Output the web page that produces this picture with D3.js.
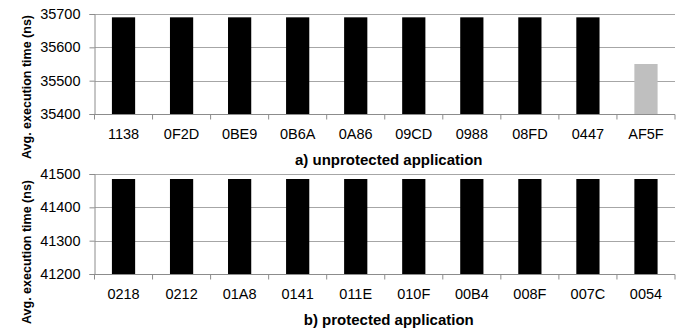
<!DOCTYPE html>
<html><head><meta charset="utf-8">
<script src="https://cdn.jsdelivr.net/npm/d3@7"></script>
<style>body{margin:0;background:#fff}svg{display:block;font-family:"Liberation Sans",Arial,sans-serif}</style>
</head><body><svg id="c" width="680" height="332"></svg>
<script>
const catsA = ["1138","0F2D","0BE9","0B6A","0A86","09CD","0988","08FD","0447","AF5F"];
const valsA = [35690,35690,35690,35690,35690,35690,35690,35690,35690,35550];
const colorsA = ["#000","#000","#000","#000","#000","#000","#000","#000","#000","#bfbfbf"];
const ticksA = [35400,35500,35600,35700];
const titleA = "a) unprotected application";

const catsB = ["0218","0212","01A8","0141","011E","010F","00B4","008F","007C","0054"];
const valsB = [41485,41485,41485,41485,41485,41485,41485,41485,41485,41485];
const colorsB = ["#000","#000","#000","#000","#000","#000","#000","#000","#000","#000"];
const ticksB = [41200,41300,41400,41500];
const titleB = "b) protected application";

const yTitle = "Avg. execution time (ns)";

const svg = d3.select("#c");
const L = 94.5, R = 675;

function panel(cats, vals, colors, ticks, title, top, bottom, ytCenter) {
  const g = svg.append("g");
  const x = d3.scaleBand().domain(cats).range([L, R]).paddingInner(0.6).paddingOuter(0.3);
  const y = d3.scaleLinear().domain([ticks[0], ticks[ticks.length-1]]).range([bottom, top]);
  const base = Math.round(y(ticks[0])) + 0.5;
  g.selectAll("line.grid").data(ticks.slice(1)).join("line")
    .attr("x1", L).attr("x2", R).attr("y1", d => Math.round(y(d))+0.5).attr("y2", d => Math.round(y(d))+0.5)
    .attr("stroke", "#a6a6a6").attr("stroke-width", 1);
  g.selectAll("rect").data(cats).join("rect")
    .attr("x", d => x(d)).attr("width", x.bandwidth())
    .attr("y", (d,i) => y(vals[i])).attr("height", (d,i) => y(ticks[0]) - y(vals[i]))
    .attr("fill", (d,i) => colors[i]);
  const ya = d3.axisLeft(y).tickValues(ticks).tickSize(5).tickPadding(9).tickFormat(d3.format("d"));
  const yg = g.append("g").attr("transform", `translate(${L},0)`).call(ya);
  yg.select(".domain").attr("stroke", "#8c8c8c");
  yg.selectAll(".tick line").attr("stroke", "#8c8c8c");
  yg.selectAll("text").attr("font-size", 14.5).attr("fill", "#000").attr("font-family", "Liberation Sans, Arial, sans-serif");
  const bounds = d3.range(cats.length + 1).map(i => L + i * (R - L) / cats.length);
  g.append("line").attr("x1", L).attr("x2", R).attr("y1", base).attr("y2", base).attr("stroke", "#8c8c8c");
  g.selectAll("line.xt").data(bounds).join("line")
    .attr("x1", d => d).attr("x2", d => d)
    .attr("y1", base).attr("y2", base + 5).attr("stroke", "#8c8c8c");
  g.selectAll("text.xl").data(cats).join("text")
    .attr("x", d => x(d) + x.bandwidth()/2).attr("y", base + 24)
    .attr("text-anchor", "middle").attr("font-size", 14.5).text(d => d);
  g.append("text").attr("x", (L + R)/2 + 4).attr("y", base + 50)
    .attr("text-anchor", "middle").attr("font-size", 15).attr("font-weight", "bold").text(title);
  g.append("text").attr("transform", `translate(31,${ytCenter}) rotate(-90)`)
    .attr("text-anchor", "middle").attr("font-size", 12.5).attr("font-weight", "bold").text(yTitle);
}

panel(catsA, valsA, colorsA, ticksA, titleA, 14, 114, 87);
panel(catsB, valsB, colorsB, ticksB, titleB, 174, 274, 252);
</script></body></html>
